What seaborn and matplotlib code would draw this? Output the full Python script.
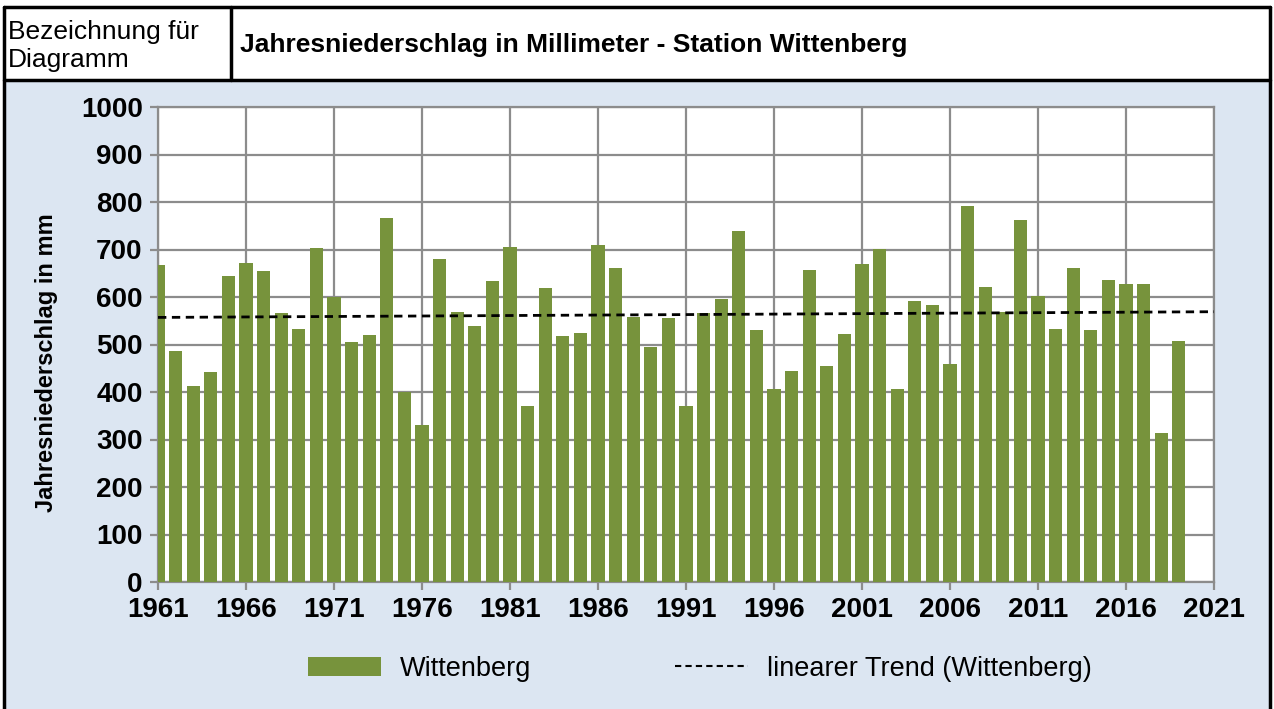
import numpy as np
import pandas as pd
import seaborn as sns
import matplotlib
matplotlib.use("Agg")
import matplotlib.pyplot as plt
from matplotlib.patches import Rectangle
from matplotlib.lines import Line2D

years = list(range(1961, 2020))
precip = [667, 487, 413, 443, 644, 672, 655, 566, 533, 704,
          601, 506, 519, 766, 401, 331, 681, 568, 539, 634,
          706, 370, 620, 517, 525, 709, 662, 557, 494, 555,
          370, 567, 596, 739, 531, 407, 445, 656, 454, 522,
          670, 702, 407, 592, 584, 459, 791, 621, 569, 763,
          603, 533, 661, 531, 636, 628, 627, 313, 508]
trend_years = [1961, 2021]
trend_values = [557, 569]
x_ticks = list(range(1961, 2022, 5))
y_ticks = list(range(0, 1001, 100))

header_left = "Bezeichnung für\nDiagramm"
title = "Jahresniederschlag in Millimeter - Station Wittenberg"
ylabel = "Jahresniederschlag in mm"
series_name = "Wittenberg"
trend_name = "linearer Trend (Wittenberg)"

df = pd.DataFrame({"Jahr": years, "Niederschlag": precip})

sns.set_theme(style="white")
plt.rcParams["font.family"] = ["Liberation Sans", "DejaVu Sans"]
plt.rcParams["text.color"] = "black"
plt.rcParams["axes.labelcolor"] = "black"
plt.rcParams["xtick.color"] = "black"
plt.rcParams["ytick.color"] = "black"

W, H = 1274, 709
fig = plt.figure(figsize=(W / 100, H / 100), dpi=100)
fig.patch.set_facecolor("white")

def fx(px):
    return px / W

def fy(py):
    return 1 - py / H

# panel background
fig.add_artist(Rectangle((fx(5), 0), fx(1265), fy(81), transform=fig.transFigure,
                         facecolor="#DCE6F2", edgecolor="none", zorder=0))
# borders
lw = 2.5
for (x0, y0, x1, y1) in [(4, 7, 1270, 7), (4, 80, 1270, 80), (4, 7, 4, 709),
                         (1270, 7, 1270, 709), (231, 7, 231, 80)]:
    fig.add_artist(Line2D([fx(x0), fx(x1)], [fy(y0), fy(y1)], transform=fig.transFigure,
                          color="black", linewidth=lw, zorder=5))

fig.text(fx(8), fy(46), header_left, ha="left", va="center", fontsize=19,
         linespacing=1.22, color="black")
fig.text(fx(240), fy(45), title, ha="left", va="center", fontsize=19,
         fontweight="bold", color="black")

ax = fig.add_axes([fx(158), fy(582), fx(1214 - 158), (582 - 107) / H])
ax.set_facecolor("white")

sns.barplot(data=df, x="Jahr", y="Niederschlag", native_scale=True, color="#77933C",
            saturation=1, width=0.75, ax=ax, zorder=3, edgecolor="none")

# linear trend
ax.plot(trend_years, trend_values, color="black", linestyle=(0, (3, 2)), linewidth=2, zorder=4)

ax.set_xlim(x_ticks[0], x_ticks[-1])
ax.set_ylim(0, 1000)
ax.set_xticks(x_ticks)
ax.set_yticks(y_ticks)
ax.set_xticklabels([str(t) for t in x_ticks], fontsize=20, fontweight="bold")
ax.set_yticklabels([str(t) for t in y_ticks], fontsize=20, fontweight="bold")
ax.set_xlabel("")
ax.set_ylabel(ylabel, fontsize=17, fontweight="bold")
ax.yaxis.set_label_coords(-(158 - 58) / (1214 - 158), (582 - 363) / 475)
ax.grid(True, color="#8C8C8C", linewidth=1.6, zorder=0)
ax.set_axisbelow(True)
for s in ax.spines.values():
    s.set_color("#8C8C8C")
    s.set_linewidth(1.6)
ax.tick_params(axis="both", which="both", direction="out", length=6, width=1.6,
               color="#8C8C8C", labelcolor="black", pad=5, bottom=True, left=True)

handles = [Rectangle((0, 0), 1, 1, facecolor="#77933C", edgecolor="none"),
           Line2D([0], [0], color="black", linestyle=(0, (3, 2)), linewidth=1.5)]
fig.legend(handles, [series_name, trend_name], loc="center", bbox_to_anchor=(fx(700), fy(669)),
           ncol=2, frameon=False, fontsize=19.5, handlelength=2.7, handleheight=0.75,
           columnspacing=5.3, handletextpad=0.7)

fig.savefig("out.png", dpi=100)
